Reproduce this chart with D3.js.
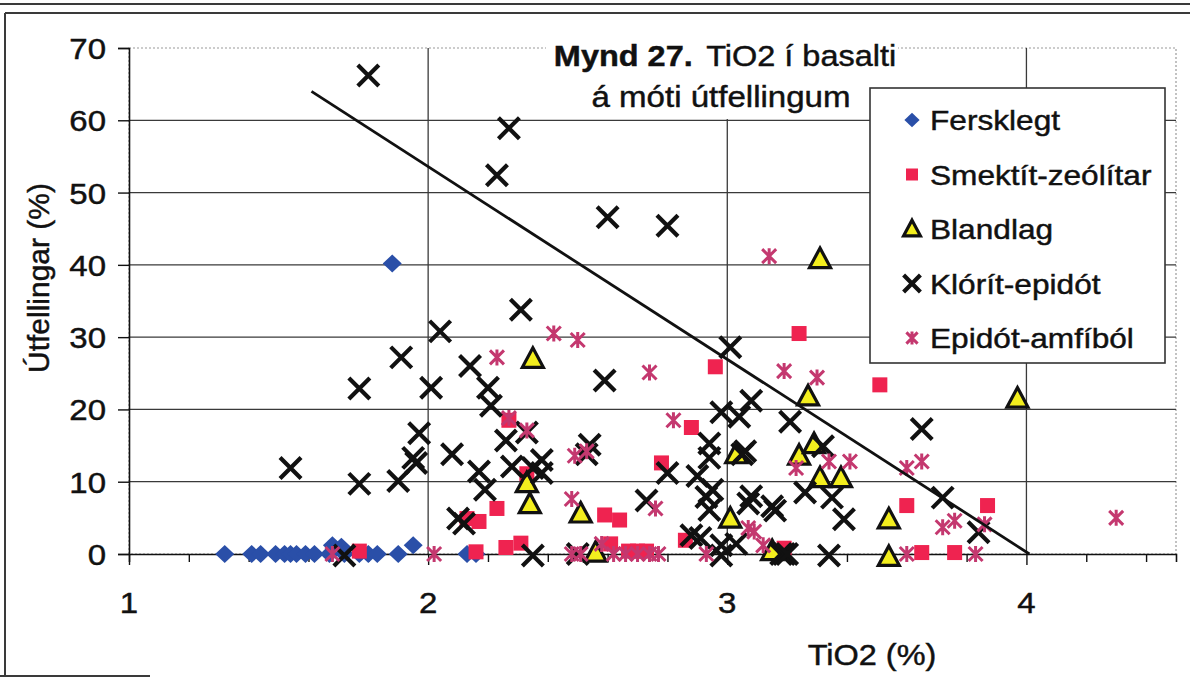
<!DOCTYPE html>
<html>
<head>
<meta charset="utf-8">
<script src="https://cdn.jsdelivr.net/npm/d3@7/dist/d3.min.js"></script>
<style>
  body { margin: 0; background: #fff; }
  text { font-family: "Liberation Sans", Arial, sans-serif; fill: #111; stroke: #111; stroke-width: 0.45px; }
</style>
</head>
<body>
<svg id="chart" width="1190" height="678"></svg>
<script>
// Axis ticks
const xTickValues = [1, 2, 3, 4];
const yTickValues = [0, 10, 20, 30, 40, 50, 60, 70];

// Series names (legend order)
const seriesNames = ["Fersklegt", "Smektít-zeólítar", "Blandlag", "Klórít-epidót", "Epidót-amfíból"];

// Fersklegt
const ferskX = [1.32, 1.41, 1.44, 1.49, 1.52, 1.54, 1.56, 1.59, 1.62, 1.68, 1.67, 1.71, 1.72, 1.77, 1.80, 1.83, 1.90, 1.95, 1.88, 2.13, 2.16];
const ferskY = [0, 0, 0, 0, 0, 0, 0, 0, 0, 1.2, 0, 1.0, 0, 0, 0, 0, 0, 1.2, 40.2, 0, 0];

// Smektít-zeólítar
const smekX = [1.77, 2.16, 2.26, 2.31, 2.13, 2.17, 2.23, 2.27, 2.33, 2.59, 2.64, 2.61, 2.67, 2.70, 2.73, 2.78, 2.86, 2.88, 2.96, 3.24, 3.19, 3.51, 3.60, 3.87, 3.65, 3.76];
const smekY = [0.4, 0.3, 0.9, 1.5, 4.9, 4.5, 6.3, 18.5, 11.1, 5.4, 4.7, 1.4, 0.4, 0.4, 0.4, 12.6, 1.9, 17.5, 25.9, 30.5, 0.8, 23.4, 6.7, 6.7, 0.2, 0.2];

// Blandlag
const blandX = [2.33, 2.34, 2.35, 2.51, 2.56, 3.03, 3.01, 3.15, 3.24, 3.29, 3.31, 3.38, 3.54, 3.54, 3.27, 3.97, 3.31];
const blandY = [9.8, 6.9, 27.0, 5.6, 0.2, 13.8, 4.9, 0.4, 13.6, 15.2, 10.5, 10.5, 4.8, -0.4, 21.8, 21.5, 40.8];

// Klórít-epidót
const klorX = [1.80, 2.27, 2.23, 2.60, 2.80, 2.31, 2.04, 1.91, 2.14, 1.77, 2.01, 2.20, 2.21, 2.59, 3.01, 3.08, 2.98, 3.04, 3.21, 3.65,
               1.54, 1.77, 1.90, 1.97, 1.95, 1.96, 2.08, 2.12, 2.10, 2.17, 2.19, 2.26, 2.33, 2.28, 2.35, 2.38, 2.38, 2.35, 2.54, 2.53,
               2.73, 2.80, 2.90, 2.94, 2.94, 3.05, 2.93, 2.95, 2.94, 3.07, 2.88, 2.91, 2.98, 2.98, 3.03, 2.50, 1.72, 3.06, 3.08, 3.15,
               3.16, 3.26, 3.35, 3.39, 3.32, 3.72, 3.84, 3.18, 3.19, 3.20, 3.34];
const klorY = [66.2, 58.9, 52.4, 46.6, 45.4, 33.8, 30.8, 27.2, 26.0, 22.9, 23.0, 23.0, 20.5, 24.0, 28.6, 21.2, 19.6, 19.0, 18.3, 17.3,
               11.9, 9.7, 10.1, 16.7, 13.3, 12.6, 13.8, 4.2, 4.9, 11.4, 8.9, 15.7, 16.8, 12.1, 11.9, 13.0, 11.2, -0.2, 15.1, 13.8,
               7.4, 11.2, 10.8, 15.3, 13.3, 13.8, 7.9, 8.9, 6.1, 7.0, 2.6, 2.2, 1.2, -0.2, 1.4, 0, -0.2, 14.2, 8.0, 6.6,
               6.0, 8.5, 7.8, 4.8, 14.9, 7.8, 3.0, 0, 0, 0, -0.2];

// Epidót-amfíból
const epiX = [1.68, 2.02, 2.23, 2.27, 2.33, 2.42, 2.50, 2.49, 2.53, 2.48, 2.48, 2.51, 2.58, 2.62, 2.66, 2.70, 2.74, 2.77, 2.74, 2.82,
              2.76, 2.93, 3.07, 3.09, 3.12, 3.14, 3.19, 3.30, 3.23, 3.34, 3.41, 3.60, 3.65, 3.72, 3.76, 3.86, 3.60, 3.83, 4.30];
const epiY = [0, 0, 27.2, 18.8, 17.1, 30.5, 29.6, 13.6, 14.2, 7.6, 0, 0, 1.4, 0, 0, 0, 0, 0, 25.1, 18.5,
              6.3, 0, 3.6, 3.1, 1.2, 41.2, 25.3, 24.4, 11.9, 12.8, 12.8, 11.9, 12.8, 3.7, 4.6, 4.1, 0, 0, 5.0];

// Dividing line
const lineX = [1.61, 4.01];
const lineY = [64.0, 0.0];

// Titles
const titleBold = "Mynd 27.";
const titleRest = "TiO2 í basalti";
const titleLine2 = "á móti útfellingum";
const xAxisTitle = "TiO2 (%)";
const yAxisTitle = "Útfellingar (%)";

const zip = (xs, ys) => xs.map((x, i) => ({ x, y: ys[i] }));
const series = [
  { name: seriesNames[0], type: "diamond",  data: zip(ferskX, ferskY) },
  { name: seriesNames[1], type: "square",   data: zip(smekX, smekY) },
  { name: seriesNames[2], type: "triangle", data: zip(blandX, blandY) },
  { name: seriesNames[3], type: "cross",    data: zip(klorX, klorY) },
  { name: seriesNames[4], type: "star",     data: zip(epiX, epiY) }
];

const svg = d3.select("#chart");
svg.append("rect").attr("width", 1190).attr("height", 678).attr("fill", "#fff");

// Page frame around the figure
const frame = svg.append("g").attr("stroke", "#3a3a3a").attr("fill", "none");
frame.append("line").attr("x1", 0).attr("x2", 1190).attr("y1", 4).attr("y2", 4).attr("stroke-width", 2);
frame.append("line").attr("x1", 5).attr("x2", 1190).attr("y1", 13).attr("y2", 13).attr("stroke-width", 2.2);
frame.append("line").attr("x1", 5).attr("x2", 5).attr("y1", 13).attr("y2", 676).attr("stroke-width", 2);
frame.append("line").attr("x1", 0).attr("x2", 150).attr("y1", 676).attr("y2", 676).attr("stroke-width", 2);

const x = d3.scaleLinear().domain([1, 4.5]).range([129, 1176]);
const y = d3.scaleLinear().domain([0, 70]).range([554, 48]);

// Plot area border (dotted)
svg.append("rect").attr("x", x(1)).attr("y", y(70)).attr("width", x(4.5) - x(1)).attr("height", y(0) - y(70))
  .attr("fill", "none").attr("stroke", "#9a9a9a").attr("stroke-width", 1.2).attr("stroke-dasharray", "2,2");

// Gridlines
const grid = svg.append("g").attr("stroke", "#3a3a3a").attr("stroke-width", 1.3);
grid.selectAll("line.h").data(yTickValues.filter(v => v > 0 && v < 70)).join("line")
  .attr("x1", x(1)).attr("x2", x(4.5)).attr("y1", d => y(d)).attr("y2", d => y(d));
grid.selectAll("line.v").data(xTickValues.filter(v => v > 1)).join("line")
  .attr("x1", d => x(d)).attr("x2", d => x(d)).attr("y1", y(70)).attr("y2", y(0));

// Axes
const xAxis = d3.axisBottom(x).tickValues(d3.range(1, 4.41, 0.2)).tickSize(8).tickFormat("");
const gx = svg.append("g").attr("transform", `translate(0,${y(0)})`).call(xAxis);
gx.select(".domain").attr("stroke", "#111").attr("stroke-width", 1.6);
gx.selectAll(".tick line").attr("stroke", "#111").attr("stroke-width", 1.4)
  .attr("y2", d => Math.abs(d - Math.round(d)) < 1e-6 ? 11 : 8);

const yAxis = d3.axisLeft(y).tickValues(yTickValues).tickSize(11).tickFormat("");
const gy = svg.append("g").attr("transform", `translate(${x(1)},0)`).call(yAxis);
gy.select(".domain").attr("stroke", "#111").attr("stroke-width", 1.6);
gy.selectAll(".tick line").attr("stroke", "#111").attr("stroke-width", 1.4);

// Text helper with slight horizontal widening of glyphs
function label(g, px, py, str, size, anchor, sx, weight) {
  return g.append("text")
    .attr("transform", `translate(${px},${py}) scale(${sx},1)`)
    .attr("text-anchor", anchor)
    .attr("font-size", size)
    .attr("font-weight", weight || "normal")
    .text(str);
}

const labels = svg.append("g");
yTickValues.forEach(v => label(labels, 106, y(v) + 11, String(v), 30, "end", 1.1));
xTickValues.forEach(v => label(labels, x(v), 613, String(v), 30, "middle", 1.1));
label(labels, 872, 665, xAxisTitle, 29, "middle", 1.12);
svg.append("text")
  .attr("transform", "translate(49,278) rotate(-90)")
  .attr("text-anchor", "middle").attr("font-size", 30)
  .text(yAxisTitle);

// Title block
svg.append("rect").attr("x", 546).attr("y", 30).attr("width", 352).attr("height", 89).attr("fill", "#fff");
const t1 = svg.append("text").attr("transform", "translate(725,66) scale(1.12,1)")
  .attr("text-anchor", "middle").attr("font-size", 29);
t1.append("tspan").attr("font-weight", "bold").text(titleBold);
t1.append("tspan").attr("dx", 12).text(titleRest);
label(svg, 721, 107, titleLine2, 29, "middle", 1.14);

// Marker drawing
const color = { diamond: "#2a4fa8", square: "#ef2350", triangle: "#f3ee1e", cross: "#111", star: "#c4386f" };
function marker(sel, type, k) {
  if (type === "diamond") {
    sel.append("path").attr("d", `M0,${-9*k}L${9.5*k},0L0,${9*k}L${-9.5*k},0Z`).attr("fill", color.diamond);
  } else if (type === "square") {
    sel.append("rect").attr("x", -7.5*k).attr("y", -7.5*k).attr("width", 15*k).attr("height", 15*k).attr("fill", color.square);
  } else if (type === "triangle") {
    sel.append("path").attr("d", `M0,${-11*k}L${10.5*k},${8.5*k}L${-10.5*k},${8.5*k}Z`)
      .attr("fill", color.triangle).attr("stroke", "#111").attr("stroke-width", 3.2).attr("stroke-linejoin", "miter");
  } else if (type === "cross") {
    const s = 10.5 * k;
    sel.append("path").attr("d", `M${-s},${-s}L${s},${s}M${-s},${s}L${s},${-s}`)
      .attr("stroke", color.cross).attr("stroke-width", 4.2).attr("fill", "none");
  } else if (type === "star") {
    const s = 7 * k;
    sel.append("path").attr("d", `M${-s},${-s}L${s},${s}M${-s},${s}L${s},${-s}M0,${-s-1}L0,${s+1}`)
      .attr("stroke", color.star).attr("stroke-width", 3).attr("fill", "none");
  }
}

// Points
series.forEach(s => {
  const g = svg.append("g").attr("class", "series");
  g.selectAll("g").data(s.data).join("g")
    .attr("transform", d => `translate(${x(d.x)},${y(d.y)})`)
    .each(function () { marker(d3.select(this), s.type, 1); });
});

// Dividing line
svg.append("path")
  .datum(zip(lineX, lineY))
  .attr("d", d3.line().x(d => x(d.x)).y(d => y(d.y)))
  .attr("stroke", "#111").attr("stroke-width", 2.8).attr("fill", "none");

// Legend
const lg = svg.append("g");
lg.append("rect").attr("x", 870).attr("y", 88).attr("width", 295).attr("height", 275)
  .attr("fill", "#fff").attr("stroke", "#333").attr("stroke-width", 1.6);
series.forEach((s, i) => {
  const cy = 120 + i * 54.5;
  const m = lg.append("g").attr("transform", `translate(912,${cy})`);
  marker(m, s.type, 0.8);
  label(lg, 930, cy + 10, s.name, 28, "start", 1.13);
});
</script>
</body>
</html>
